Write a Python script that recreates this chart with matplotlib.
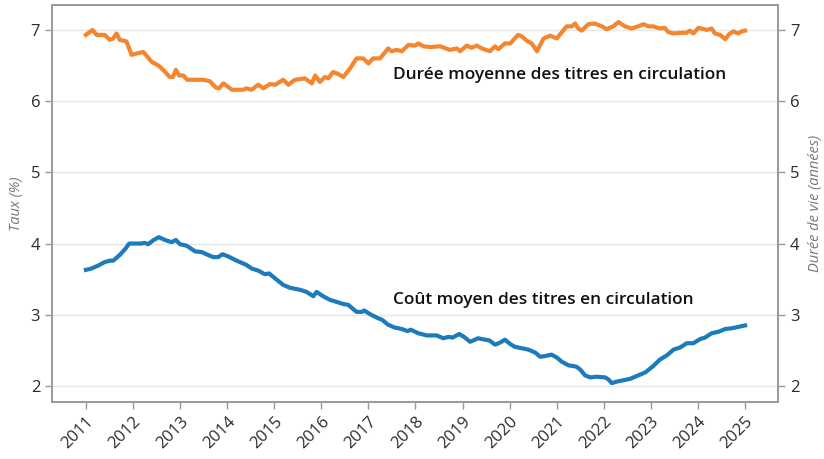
import matplotlib
matplotlib.use("Agg")
import matplotlib.pyplot as plt

plt.rcParams['font.family'] = ['Open Sans', 'DejaVu Sans']

# Durée moyenne des titres en circulation (années)
annees_duree = [2011.00, 2011.14, 2011.23, 2011.40, 2011.51, 2011.58, 2011.65, 2011.72, 2011.86, 2011.97,
                2012.08, 2012.22, 2012.40, 2012.54, 2012.64, 2012.78, 2012.85, 2012.91, 2012.98,
                2013.07, 2013.15, 2013.49, 2013.63, 2013.76, 2013.83, 2013.92,
                2014.10, 2014.34, 2014.41, 2014.52, 2014.66, 2014.77, 2014.91,
                2015.02, 2015.19, 2015.30, 2015.44, 2015.65, 2015.80, 2015.87, 2015.97,
                2016.08, 2016.15, 2016.25, 2016.36, 2016.47, 2016.61, 2016.75, 2016.89,
                2017.00, 2017.10, 2017.25, 2017.42, 2017.49, 2017.60, 2017.71, 2017.85, 2017.99,
                2018.06, 2018.17, 2018.31, 2018.52, 2018.73, 2018.88, 2018.95,
                2019.09, 2019.19, 2019.30, 2019.41, 2019.58, 2019.69, 2019.76, 2019.90,
                2020.01, 2020.18, 2020.26, 2020.36, 2020.47, 2020.58, 2020.72, 2020.86,
                2021.00, 2021.21, 2021.32, 2021.39, 2021.46, 2021.53, 2021.67, 2021.81, 2021.96,
                2022.06, 2022.20, 2022.31, 2022.45, 2022.59, 2022.73, 2022.84, 2022.95,
                2023.05, 2023.19, 2023.29, 2023.37, 2023.48, 2023.66, 2023.76, 2023.83, 2023.90,
                2024.01, 2024.19, 2024.29, 2024.36, 2024.47, 2024.58, 2024.66, 2024.75, 2024.85, 2024.93,
                2025.00]
duree = [6.93, 7.00, 6.93, 6.93, 6.86, 6.88, 6.95, 6.86, 6.84, 6.65,
         6.67, 6.69, 6.55, 6.50, 6.44, 6.34, 6.34, 6.44, 6.36,
         6.36, 6.30, 6.30, 6.28, 6.19, 6.18, 6.25,
         6.16, 6.16, 6.18, 6.16, 6.23, 6.18, 6.24,
         6.23, 6.30, 6.23, 6.30, 6.32, 6.25, 6.36, 6.27,
         6.34, 6.32, 6.41, 6.38, 6.34, 6.46, 6.60, 6.60,
         6.53, 6.60, 6.60, 6.74, 6.70, 6.72, 6.70, 6.79, 6.78,
         6.81, 6.77, 6.76, 6.77, 6.72, 6.74, 6.70,
         6.78, 6.75, 6.78, 6.74, 6.70, 6.77, 6.73, 6.81,
         6.81, 6.93, 6.91, 6.85, 6.81, 6.70, 6.88, 6.92,
         6.88, 7.05, 7.05, 7.09, 7.02, 6.99, 7.08, 7.09, 7.05,
         7.01, 7.05, 7.11, 7.05, 7.02, 7.05, 7.08, 7.05,
         7.05, 7.02, 7.03, 6.97, 6.95, 6.96, 6.96, 6.99, 6.95,
         7.03, 7.00, 7.02, 6.95, 6.93, 6.87, 6.94, 6.98, 6.95, 6.98,
         6.99]

# Coût moyen des titres en circulation (%)
annees_cout = [2011.00, 2011.12, 2011.26, 2011.40, 2011.51, 2011.58, 2011.72, 2011.83, 2011.92,
               2012.18, 2012.25, 2012.32, 2012.44, 2012.55, 2012.68, 2012.82, 2012.91,
               2013.00, 2013.14, 2013.32, 2013.46, 2013.56, 2013.70, 2013.81, 2013.90,
               2014.02, 2014.20, 2014.41, 2014.52, 2014.66, 2014.80, 2014.89,
               2015.02, 2015.19, 2015.33, 2015.55, 2015.69, 2015.83, 2015.90,
               2016.04, 2016.18, 2016.33, 2016.47, 2016.57, 2016.64, 2016.75, 2016.86, 2016.91,
               2017.03, 2017.21, 2017.29, 2017.42, 2017.56, 2017.71, 2017.83, 2017.90,
               2018.06, 2018.24, 2018.45, 2018.59, 2018.70, 2018.79, 2018.93,
               2019.03, 2019.16, 2019.33, 2019.48, 2019.57, 2019.69, 2019.80, 2019.90,
               2020.01, 2020.11, 2020.26, 2020.40, 2020.54, 2020.65, 2020.75, 2020.89,
               2021.00, 2021.11, 2021.25, 2021.35, 2021.42, 2021.50, 2021.60, 2021.71, 2021.85,
               2022.03, 2022.10, 2022.17, 2022.27, 2022.41, 2022.56, 2022.70, 2022.88,
               2023.05, 2023.19, 2023.34, 2023.48, 2023.62, 2023.76, 2023.90,
               2024.05, 2024.15, 2024.29, 2024.43, 2024.58, 2024.72, 2024.86,
               2025.00]
cout = [3.63, 3.65, 3.69, 3.74, 3.76, 3.76, 3.84, 3.92, 4.00,
        4.00, 4.01, 3.99, 4.05, 4.09, 4.05, 4.02, 4.05,
        3.99, 3.97, 3.89, 3.88, 3.85, 3.81, 3.81, 3.85,
        3.82, 3.76, 3.70, 3.65, 3.62, 3.57, 3.58,
        3.51, 3.42, 3.38, 3.35, 3.32, 3.26, 3.32,
        3.26, 3.21, 3.18, 3.15, 3.14, 3.10, 3.04, 3.04, 3.06,
        3.01, 2.95, 2.93, 2.86, 2.82, 2.80, 2.77, 2.79,
        2.74, 2.71, 2.71, 2.67, 2.69, 2.68, 2.73,
        2.69, 2.62, 2.67, 2.65, 2.64, 2.58, 2.61, 2.65,
        2.59, 2.55, 2.53, 2.51, 2.47, 2.41, 2.42, 2.44,
        2.40, 2.34, 2.29, 2.28, 2.27, 2.23, 2.15, 2.12, 2.13,
        2.12, 2.09, 2.04, 2.06, 2.08, 2.10, 2.14, 2.19,
        2.28, 2.37, 2.43, 2.51, 2.54, 2.60, 2.60,
        2.66, 2.68, 2.74, 2.76, 2.80, 2.81, 2.83,
        2.85]

annees_ticks = list(range(2011, 2026))
y_ticks = [2, 3, 4, 5, 6, 7]

orange = '#F4862F'
bleu = '#1C7BBA'
gris = '#999999'

fig = plt.figure(figsize=(8.24, 4.59), dpi=100)
ax = fig.add_axes([0.0631, 0.1242, 0.8811, 0.8649])
ax2 = ax.twinx()

ax.plot(annees_duree, duree, color=orange, lw=3, solid_joinstyle='round', zorder=3)
ax.plot(annees_cout, cout, color=bleu, lw=3, solid_joinstyle='round', zorder=3)

ax.set_xlim(2010.28, 2025.70)
ax.set_ylim(1.775, 7.35)
ax2.set_ylim(1.775, 7.35)

ax.set_xticks(annees_ticks)
ax.set_xticklabels([str(a) for a in annees_ticks], rotation=45, ha='right', rotation_mode='anchor')
ax.set_yticks(y_ticks)
ax2.set_yticks(y_ticks)

ax.grid(axis='y', color='#e6e6e6', lw=1)
ax.set_axisbelow(True)

for a in (ax, ax2):
    for s in a.spines.values():
        s.set_color(gris)
        s.set_linewidth(1.2)
    a.tick_params(colors=gris, labelcolor='#2b2b2b', labelsize=12, length=5, width=1)

ax.set_ylabel('Taux (%)', fontstyle='italic', color='#777777', fontsize=10.5, labelpad=5)
ax2.set_ylabel('Durée de vie (années)', fontstyle='italic', color='#777777', fontsize=10.5, labelpad=6)

ax.text(2017.52, 6.37, 'Durée moyenne des titres en circulation', fontsize=12.4,
        fontweight='semibold', color='#111111', va='center', ha='left')
ax.text(2017.52, 3.21, 'Coût moyen des titres en circulation', fontsize=12.4,
        fontweight='semibold', color='#111111', va='center', ha='left')

fig.savefig('out.png', dpi=100)
